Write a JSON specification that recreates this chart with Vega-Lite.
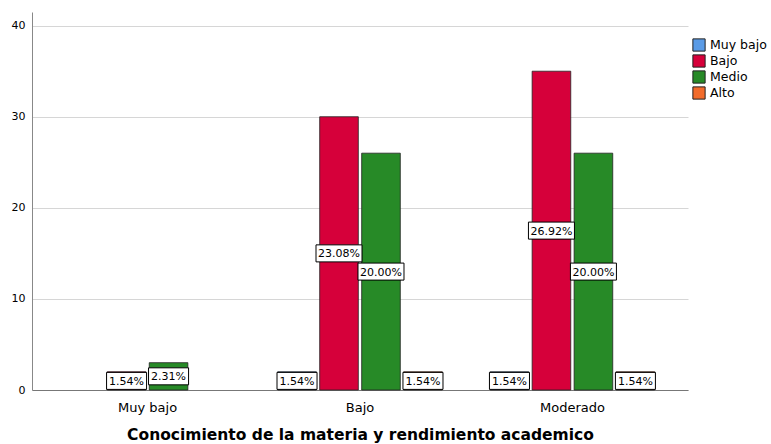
{
  "$schema": "https://vega.github.io/schema/vega-lite/v6.json",
  "width": 656,
  "height": 378,
  "autosize": {"type": "none"},
  "padding": {"left": 32, "top": 12, "right": 83, "bottom": 54},
  "background": "white",
  "config": {
    "font": "DejaVu Sans",
    "view": {"stroke": null}
  },
  "data": {
    "values": [
      {"grupo": "Muy bajo", "serie": "Bajo", "n": 2},
      {"grupo": "Muy bajo", "serie": "Medio", "n": 3},
      {"grupo": "Bajo", "serie": "Muy bajo", "n": 2},
      {"grupo": "Bajo", "serie": "Bajo", "n": 30},
      {"grupo": "Bajo", "serie": "Medio", "n": 26},
      {"grupo": "Bajo", "serie": "Alto", "n": 2},
      {"grupo": "Moderado", "serie": "Muy bajo", "n": 2},
      {"grupo": "Moderado", "serie": "Bajo", "n": 35},
      {"grupo": "Moderado", "serie": "Medio", "n": 26},
      {"grupo": "Moderado", "serie": "Alto", "n": 2}
    ]
  },
  "transform": [
    {"joinaggregate": [{"op": "sum", "field": "n", "as": "total"}]},
    {"calculate": "datum.n / datum.total", "as": "pct"},
    {"calculate": "datum.n / 2", "as": "mid"}
  ],
  "encoding": {
    "x": {
      "field": "grupo",
      "type": "nominal",
      "sort": ["Muy bajo", "Bajo", "Moderado"],
      "scale": {"paddingInner": 0, "paddingOuter": 0.044},
      "axis": {
        "title": "Conocimiento de la materia y rendimiento academico",
        "titleFont": "DejaVu Sans",
        "titleFontSize": 15.5,
        "titleFontWeight": "bold",
        "titleColor": "#000",
        "titlePadding": 13,
        "labelAngle": 0,
        "labelFontSize": 13,
        "labelFont": "DejaVu Sans",
        "labelColor": "#000",
        "labelPadding": 11,
        "ticks": false,
        "domainColor": "#777",
        "grid": false
      }
    },
    "xOffset": {
      "field": "serie",
      "type": "nominal",
      "scale": {"domain": ["Muy bajo", "Bajo", "Medio", "Alto"], "paddingInner": 0.08, "paddingOuter": 0.57}
    }
  },
  "layer": [
    {
      "mark": {"type": "bar", "stroke": "#222", "strokeWidth": 0.8},
      "encoding": {
        "y": {
          "field": "n",
          "type": "quantitative",
          "scale": {"domain": [0, 41.5], "nice": false},
          "axis": {
            "title": null,
            "values": [0, 10, 20, 30, 40],
            "ticks": false,
            "labelFont": "DejaVu Sans",
            "labelFontSize": 11,
            "labelColor": "#000",
            "labelPadding": 7,
            "domainColor": "#888",
            "gridColor": "#d6d6d6",
            "gridWidth": 1
          }
        },
        "fill": {
          "field": "serie",
          "type": "nominal",
          "scale": {
            "domain": ["Muy bajo", "Bajo", "Medio", "Alto"],
            "range": ["#5a9be6", "#d6003a", "#278a27", "#f26b2b"]
          },
          "legend": {
            "title": null,
            "orient": "none",
            "legendX": 660,
            "legendY": 26,
            "symbolType": "square",
            "symbolSize": 150,
            "symbolStrokeColor": "#222",
            "symbolStrokeWidth": 1,
            "labelFont": "DejaVu Sans",
            "labelFontSize": 12.5,
            "labelColor": "#000",
            "labelOffset": 4,
            "rowPadding": -2
          }
        }
      }
    },
    {
      "mark": {"type": "point", "filled": true, "fill": "white", "stroke": "#000", "strokeWidth": 1, "opacity": 1},
      "encoding": {
        "y": {"field": "mid", "type": "quantitative"},
        "size": {"value": 2116},
        "shape": {
          "condition": {"test": "datum.n >= 10", "value": "M-1,-0.37H1V0.37H-1Z"},
          "value": "M-0.87,-0.37H0.87V0.37H-0.87Z"
        }
      }
    },
    {
      "mark": {"type": "text", "font": "DejaVu Sans", "fontSize": 11, "color": "#000", "baseline": "middle", "align": "center", "dy": 1},
      "encoding": {
        "y": {"field": "mid", "type": "quantitative"},
        "text": {"field": "pct", "type": "quantitative", "format": ".2%"}
      }
    }
  ]
}
